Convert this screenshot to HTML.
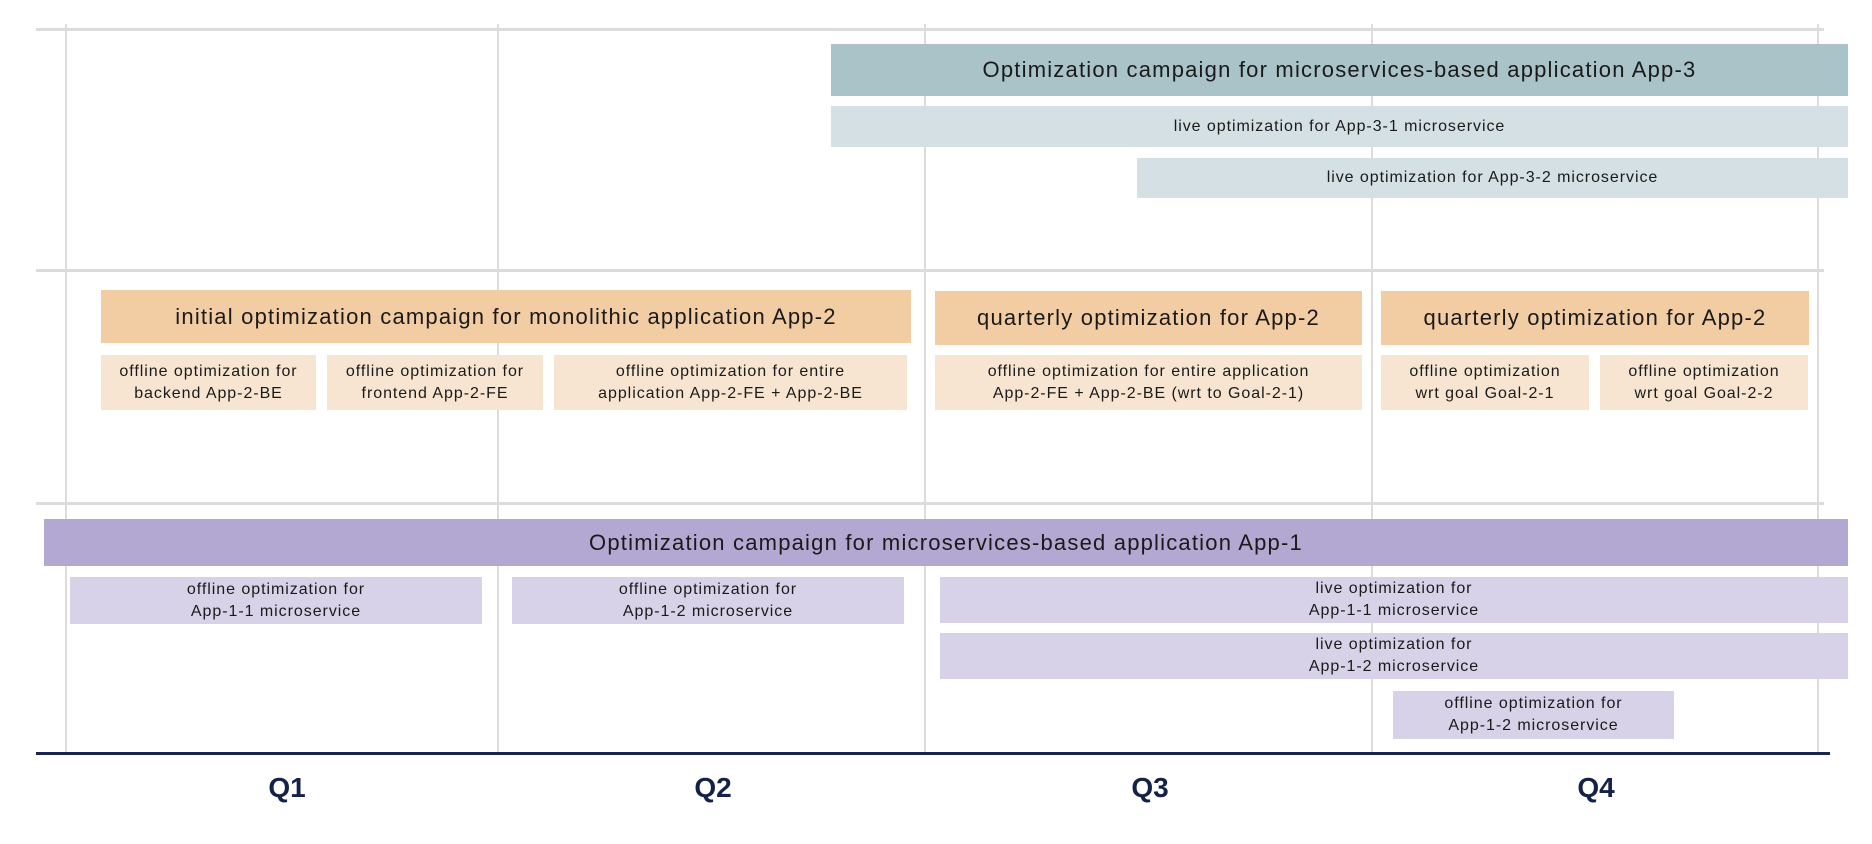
<!DOCTYPE html>
<html><head><meta charset="utf-8"><style>
body{margin:0;width:1872px;height:844px;background:#fff;position:relative;overflow:hidden;font-family:"Liberation Sans",sans-serif;color:#1a1a1a}
.b{position:absolute;display:flex;align-items:center;justify-content:center;text-align:center;line-height:1.35;font-size:16px;letter-spacing:0.95px}
.h{font-size:22px;letter-spacing:1.2px}
.l{position:absolute;background:#dcdcdc}
.q{position:absolute;top:772px;font-size:28px;font-weight:bold;color:#14224a;width:100px;text-align:center}
</style></head><body>
<div class="l" style="left:36px;top:28px;width:1788px;height:3px"></div>
<div class="l" style="left:36px;top:269px;width:1788px;height:3px"></div>
<div class="l" style="left:36px;top:502px;width:1788px;height:3px"></div>
<div class="l" style="left:65px;top:24px;width:2px;height:731px"></div>
<div class="l" style="left:497px;top:24px;width:2px;height:731px"></div>
<div class="l" style="left:924px;top:24px;width:2px;height:731px"></div>
<div class="l" style="left:1371px;top:24px;width:2px;height:731px"></div>
<div class="l" style="left:1817px;top:24px;width:2px;height:731px"></div>
<div style="position:absolute;left:36px;top:752px;width:1794px;height:3px;background:#1a2550"></div>
<div class="q" style="left:237px">Q1</div>
<div class="q" style="left:663px">Q2</div>
<div class="q" style="left:1100px">Q3</div>
<div class="q" style="left:1546px">Q4</div>

<div class="b h" style="left:831px;top:44px;width:1017px;height:52px;background:#a9c3c8">Optimization campaign for microservices-based application App-3</div>
<div class="b" style="left:831px;top:106px;width:1017px;height:41px;background:#d4e0e4">live optimization for App-3-1 microservice</div>
<div class="b" style="left:1137px;top:158px;width:711px;height:40px;background:#d4e0e4">live optimization for App-3-2 microservice</div>

<div class="b h" style="left:101px;top:290px;width:810px;height:53px;background:#f2cca3">initial optimization campaign for monolithic application App-2</div>
<div class="b h" style="left:935px;top:291px;width:427px;height:54px;background:#f2cca3">quarterly optimization for App-2</div>
<div class="b h" style="left:1381px;top:291px;width:428px;height:54px;background:#f2cca3">quarterly optimization for App-2</div>
<div class="b" style="left:101px;top:355px;width:215px;height:55px;background:#f8e5d1">offline optimization for<br>backend App-2-BE</div>
<div class="b" style="left:327px;top:355px;width:216px;height:55px;background:#f8e5d1">offline optimization for<br>frontend App-2-FE</div>
<div class="b" style="left:554px;top:355px;width:353px;height:55px;background:#f8e5d1">offline optimization for entire<br>application App-2-FE + App-2-BE</div>
<div class="b" style="left:935px;top:355px;width:427px;height:55px;background:#f8e5d1">offline optimization for entire application<br>App-2-FE + App-2-BE (wrt to Goal-2-1)</div>
<div class="b" style="left:1381px;top:355px;width:208px;height:55px;background:#f8e5d1">offline optimization<br>wrt goal Goal-2-1</div>
<div class="b" style="left:1600px;top:355px;width:208px;height:55px;background:#f8e5d1">offline optimization<br>wrt goal Goal-2-2</div>

<div class="b h" style="left:44px;top:519px;width:1804px;height:47px;background:#b2a8d1">Optimization campaign for microservices-based application App-1</div>
<div class="b" style="left:70px;top:577px;width:412px;height:47px;background:#d7d2e7">offline optimization for<br>App-1-1 microservice</div>
<div class="b" style="left:512px;top:577px;width:392px;height:47px;background:#d7d2e7">offline optimization for<br>App-1-2 microservice</div>
<div class="b" style="left:940px;top:577px;width:908px;height:46px;background:#d7d2e7">live optimization for<br>App-1-1 microservice</div>
<div class="b" style="left:940px;top:633px;width:908px;height:46px;background:#d7d2e7">live optimization for<br>App-1-2 microservice</div>
<div class="b" style="left:1393px;top:691px;width:281px;height:48px;background:#d7d2e7">offline optimization for<br>App-1-2 microservice</div>
</body></html>
